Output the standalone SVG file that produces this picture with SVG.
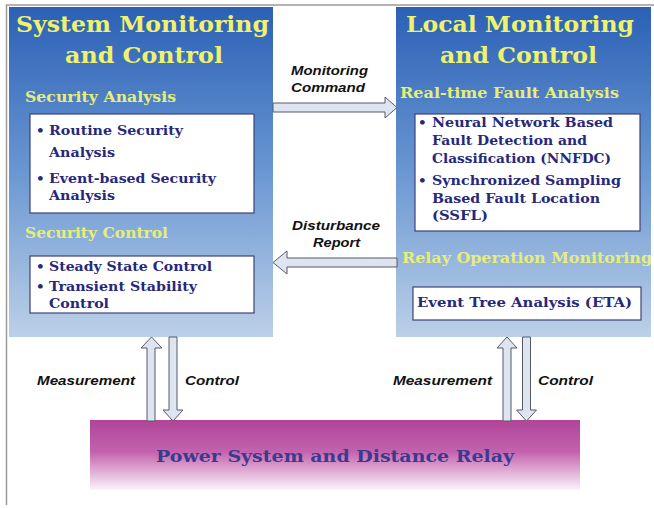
<svg xmlns="http://www.w3.org/2000/svg" width="654" height="508" viewBox="0 0 654 508">
  <defs>
    <linearGradient id="panelFill" x1="0" y1="0" x2="0" y2="1">
      <stop offset="0" stop-color="#2b60b5"/>
      <stop offset="0.5" stop-color="#6a97d2"/>
      <stop offset="1" stop-color="#bcd0e8"/>
    </linearGradient>
    <linearGradient id="powerFill" x1="0" y1="0" x2="0" y2="1">
      <stop offset="0" stop-color="#b0449a"/>
      <stop offset="0.45" stop-color="#c262ae"/>
      <stop offset="1" stop-color="#fbf4fa"/>
    </linearGradient>
    <style>
      .panel { fill: url(#panelFill); }
      .title { font-family: "DejaVu Serif", "Liberation Serif", serif; font-weight: bold; font-size: 23px; fill: #eef26c; }
      .sub { font-family: "DejaVu Serif", "Liberation Serif", serif; font-weight: bold; font-size: 14px; fill: #e6ee7a; }
      .box { fill: #ffffff; stroke: #3c4475; stroke-width: 1.2; }
      .item { font-family: "DejaVu Serif", "Liberation Serif", serif; font-weight: bold; font-size: 13.5px; fill: #28287a; }
      .arrow { fill: #dfe5f0; stroke: #555a66; stroke-width: 1; stroke-linejoin: miter; }
      .lbl { font-family: "Liberation Sans", Arial, sans-serif; font-weight: bold; font-style: italic; font-size: 13px; fill: #111111; }
      .power { font-family: "DejaVu Serif", "Liberation Serif", serif; font-weight: bold; font-size: 17px; fill: #3b3a8e; }
      .frame { stroke: #9a9a9a; stroke-width: 1.5; fill: none; }
    </style>
  </defs>

  <rect width="654" height="508" fill="#ffffff"/>
  <!-- page frame -->
  <path class="frame" d="M6.5,505 V5 H654"/>

  <!-- System Monitoring and Control -->
  <g id="system-monitoring">
    <rect class="panel" x="9" y="7" width="264" height="330"/>
    <text class="title" x="16" y="32" textLength="253" lengthAdjust="spacingAndGlyphs">System Monitoring</text>
    <text class="title" x="65" y="63" textLength="158" lengthAdjust="spacingAndGlyphs">and Control</text>
    <text class="sub" x="25" y="102" textLength="151" lengthAdjust="spacingAndGlyphs">Security Analysis</text>
    <rect class="box" x="30" y="114" width="224" height="99"/>
    <text class="item" x="36" y="135">•</text>
    <text class="item" x="49" y="135" textLength="134" lengthAdjust="spacingAndGlyphs">Routine Security</text>
    <text class="item" x="49" y="157" textLength="66" lengthAdjust="spacingAndGlyphs">Analysis</text>
    <text class="item" x="36" y="183">•</text>
    <text class="item" x="49" y="183" textLength="167" lengthAdjust="spacingAndGlyphs">Event-based Security</text>
    <text class="item" x="49" y="200" textLength="66" lengthAdjust="spacingAndGlyphs">Analysis</text>
    <text class="sub" x="25" y="238" textLength="143" lengthAdjust="spacingAndGlyphs">Security Control</text>
    <rect class="box" x="30" y="256" width="224" height="57"/>
    <text class="item" x="36" y="271">•</text>
    <text class="item" x="49" y="271" textLength="163" lengthAdjust="spacingAndGlyphs">Steady State Control</text>
    <text class="item" x="36" y="291">•</text>
    <text class="item" x="49" y="291" textLength="148" lengthAdjust="spacingAndGlyphs">Transient Stability</text>
    <text class="item" x="49" y="308" textLength="60" lengthAdjust="spacingAndGlyphs">Control</text>
  </g>

  <!-- Local Monitoring and Control -->
  <g id="local-monitoring">
    <rect class="panel" x="396" y="7" width="255" height="330"/>
    <text class="title" x="406" y="32" textLength="228" lengthAdjust="spacingAndGlyphs">Local Monitoring</text>
    <text class="title" x="440" y="63" textLength="157" lengthAdjust="spacingAndGlyphs">and Control</text>
    <text class="sub" x="400" y="98" textLength="219" lengthAdjust="spacingAndGlyphs">Real-time Fault Analysis</text>
    <rect class="box" x="415" y="114" width="225" height="117"/>
    <text class="item" x="418" y="127">•</text>
    <text class="item" x="432" y="127" textLength="181" lengthAdjust="spacingAndGlyphs">Neural Network Based</text>
    <text class="item" x="432" y="145" textLength="155" lengthAdjust="spacingAndGlyphs">Fault Detection and</text>
    <text class="item" x="432" y="163" textLength="179" lengthAdjust="spacingAndGlyphs">Classification (NNFDC)</text>
    <text class="item" x="418" y="185">•</text>
    <text class="item" x="432" y="185" textLength="189" lengthAdjust="spacingAndGlyphs">Synchronized Sampling</text>
    <text class="item" x="432" y="203" textLength="168" lengthAdjust="spacingAndGlyphs">Based Fault Location</text>
    <text class="item" x="432" y="220" textLength="56" lengthAdjust="spacingAndGlyphs">(SSFL)</text>
    <text class="sub" x="402" y="263" textLength="250" lengthAdjust="spacingAndGlyphs">Relay Operation Monitoring</text>
    <rect class="box" x="413" y="287" width="228" height="33"/>
    <text class="item" x="417" y="307" textLength="215" lengthAdjust="spacingAndGlyphs">Event Tree Analysis (ETA)</text>
  </g>

  <!-- Power System and Distance Relay -->
  <g id="power-system">
    <rect x="90" y="420" width="490" height="70" fill="url(#powerFill)"/>
    <text class="power" x="156" y="462" textLength="358" lengthAdjust="spacingAndGlyphs">Power System and Distance Relay</text>
  </g>

  <!-- block arrows and their labels -->
  <g id="connectors">
    <!-- monitoring command: system to local -->
    <polygon class="arrow" points="273,103 385,103 385,97 397,107.5 385,118 385,112 273,112"/>
    <text class="lbl" x="291" y="75" textLength="77" lengthAdjust="spacingAndGlyphs">Monitoring</text>
    <text class="lbl" x="291" y="92" textLength="74" lengthAdjust="spacingAndGlyphs">Command</text>

    <!-- disturbance report: local to system -->
    <polygon class="arrow" points="397,258 287,258 287,251 273,262.5 287,274 287,267 397,267"/>
    <text class="lbl" x="292" y="230" textLength="88" lengthAdjust="spacingAndGlyphs">Disturbance</text>
    <text class="lbl" x="313" y="247" textLength="47" lengthAdjust="spacingAndGlyphs">Report</text>

    <!-- system side: measurement up, control down -->
    <polygon class="arrow" points="147,421 147,348 141,348 151.5,337 162,348 155,348 155,421"/>
    <polygon class="arrow" points="169,337 177,337 177,410 183,410 173,421 163,410 169,410"/>
    <text class="lbl" x="37" y="385" textLength="98" lengthAdjust="spacingAndGlyphs">Measurement</text>
    <text class="lbl" x="185" y="385" textLength="54" lengthAdjust="spacingAndGlyphs">Control</text>

    <!-- local side: measurement up, control down -->
    <polygon class="arrow" points="503,421 503,348 497,348 507,337 517,348 511,348 511,421"/>
    <polygon class="arrow" points="522.5,337 530.5,337 530.5,410 536.5,410 526.5,421 516.5,410 522.5,410"/>
    <text class="lbl" x="393" y="385" textLength="99" lengthAdjust="spacingAndGlyphs">Measurement</text>
    <text class="lbl" x="538" y="385" textLength="55" lengthAdjust="spacingAndGlyphs">Control</text>
  </g>
</svg>
